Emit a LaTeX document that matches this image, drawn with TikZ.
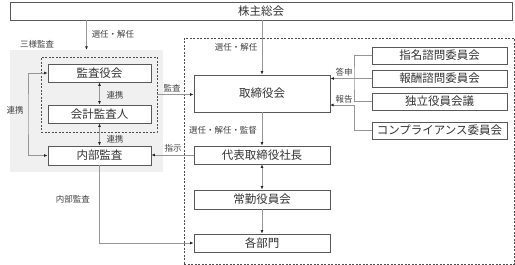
\documentclass[tikz,border=0pt]{standalone}
\usepackage{fontspec}
\setmainfont{Noto Sans CJK JP}
\usetikzlibrary{arrows.meta}
\definecolor{boxline}{RGB}{89,89,89}
\definecolor{conline}{RGB}{150,150,150}
\definecolor{areafill}{RGB}{240,240,240}

\begin{document}
\begin{tikzpicture}[x=1pt,y=-1pt,
  org/.style={draw=boxline,line width=0.9pt,fill=white,inner sep=1pt,text=black!80,font=\fontsize{11.5}{12}\selectfont},
  lbl/.style={text=black!75,font=\fontsize{8.5}{9}\selectfont,inner sep=0pt},
  con/.style={draw=conline,line width=0.7pt},
  arr/.style={con,-{Latex[length=3.5pt,width=3pt,black!85]}},
  dbl/.style={con,{Latex[length=3.5pt,width=3pt,black!85]}-{Latex[length=3.5pt,width=3pt,black!85]}},
  grp/.style={draw=black!70,dash pattern=on 2pt off 1.5pt,line width=0.7pt}]
\useasboundingbox (0,0) rectangle (515,265);

\node (kabunushi) [org,minimum width=502pt,minimum height=18pt] at (261,11) {株主総会};

\node (area) [fill=areafill,inner sep=0pt,minimum width=153pt,minimum height=122pt] at (86.5,111) {};
\node (sanyoLbl) [lbl] at (37,44) {三様監査};
\node (sanyo) [grp,minimum width=116pt,minimum height=75pt] at (99,94.5) {};
\node (kansayaku) [org,minimum width=103pt,minimum height=18pt] at (99.5,73) {監査役会};
\node (kaikei) [org,minimum width=103pt,minimum height=18pt] at (99.5,114) {会計監査人};
\node (naibu) [org,minimum width=103pt,minimum height=19pt] at (99.5,155.5) {内部監査};

\node (exec) [grp,minimum width=330pt,minimum height=226pt] at (349,151) {};
\node (torishimari) [org,minimum width=136pt,minimum height=37pt] at (262,93.5) {取締役会};
\node (daihyo) [org,minimum width=136pt,minimum height=18pt] at (262,155) {代表取締役社長};
\node (joukin) [org,minimum width=136pt,minimum height=19pt] at (262,199.5) {常勤役員会};
\node (kakubumon) [org,minimum width=136pt,minimum height=18pt] at (262,243) {各部門};

\node (shimei) [org,minimum width=135pt,minimum height=17pt] at (439.5,55.5) {指名諮問委員会};
\node (houshu) [org,minimum width=135pt,minimum height=17pt] at (439.5,78.5) {報酬諮問委員会};
\node (dokuritsu) [org,minimum width=135pt,minimum height=17pt] at (439.5,101.5) {独立役員会議};
\node (compliance) [org,minimum width=135pt,minimum height=17pt] at (439.5,130.5) {コンプライアンス委員会};

\coordinate (renkeiL) at (28,114);
\coordinate (toushinV) at (354,78.5);
\coordinate (houkokuV) at (354,105);
\coordinate (houkokuIn) at (330,105);

\draw[arr] (kabunushi.south -| area.north) -- (area.north);
\node [lbl] at (113,34) {選任・解任};
\draw[arr] (kabunushi.south -| torishimari.north) -- (torishimari.north);
\node [lbl] at (236,47) {選任・解任};

\draw[dbl] (kansayaku.south) -- (kaikei.north);
\node [lbl] at (115,95) {連携};
\draw[dbl] (kaikei.south) -- (naibu.north);
\node [lbl] at (115,139) {連携};
\draw[dbl] (naibu.west) -| (renkeiL) |- (kansayaku.west);
\node [lbl] at (15,110) {連携};

\draw[arr] (sanyo.east) -- (sanyo.east -| torishimari.west);
\node [lbl] at (172,88) {監査};

\draw[con] (shimei.west) -| (toushinV) |- (dokuritsu.west);
\draw[arr] (houshu.west) -- (houshu.west -| torishimari.east);
\node [lbl] at (344,72) {答申};
\draw[arr] (compliance.west) -| (houkokuV) -- (houkokuIn);
\node [lbl] at (344,99) {報告};

\draw[arr] (torishimari.south) -- (daihyo.north);
\node [lbl] at (223,130) {選任・解任・監督};
\draw[arr] (daihyo.west) -- (daihyo.west -| naibu.east);
\node [lbl] at (173,148) {指示};
\draw[dbl] (daihyo.south) -- (joukin.north);
\draw[arr] (joukin.south) -- (kakubumon.north);
\draw[arr] (naibu.south) |- (kakubumon.west);
\node [lbl] at (73,199) {内部監査};
\end{tikzpicture}
\end{document}
